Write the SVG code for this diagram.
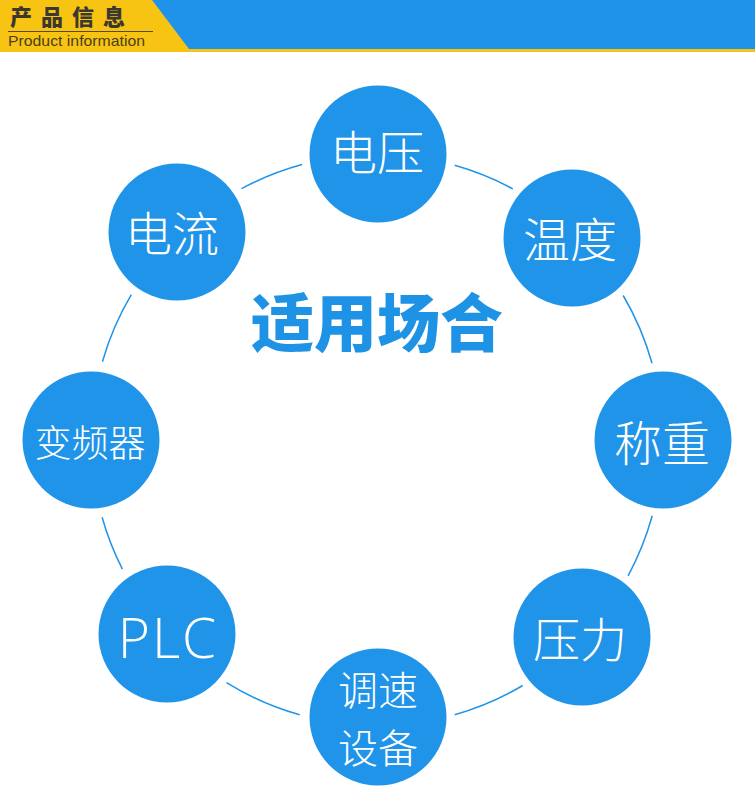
<svg xmlns="http://www.w3.org/2000/svg" width="755" height="801" viewBox="0 0 755 801">
<style>
.node{fill:#2094e8}
.lbl{fill:#ffffff;font-family:"Noto Sans CJK SC","Noto Sans",sans-serif;font-weight:300;text-anchor:middle}
.arc{fill:none;stroke:#2094e8;stroke-width:1.5}
</style>
<rect width="755" height="801" fill="#ffffff"/>
<g id="header">
<rect x="0" y="0" width="755" height="52" fill="#f8c413"/>
<polygon points="152,0 755,0 755,49 189,49" fill="#1e93e9"/>
<text x="10" y="24.5" font-family="'Noto Sans CJK SC',sans-serif" font-weight="900" font-size="22" letter-spacing="9" fill="#3b3830">产品信息</text>
<line x1="8" y1="31.5" x2="153" y2="31.5" stroke="#5a4a1e" stroke-width="1"/>
<text x="8" y="46" font-family="'Liberation Sans',Arial,sans-serif" font-size="15" textLength="137" lengthAdjust="spacingAndGlyphs" fill="#4a3e1c">Product information</text>
</g>
<text id="title" x="377" y="346" font-family="'Noto Sans CJK SC',sans-serif" font-weight="900" font-size="63" fill="#1e93e6" text-anchor="middle">适用场合</text>
<g id="connectors">
<path class="arc" d="M454.7,165.3 A285.5,285.5 0 0 1 512.8,188.9"/>
<path class="arc" d="M623.2,295.5 A285.5,285.5 0 0 1 652.0,363.2"/>
<path class="arc" d="M652.2,515.8 A285.5,285.5 0 0 1 628.1,575.8"/>
<path class="arc" d="M522.7,685.5 A285.5,285.5 0 0 1 454.7,714.7"/>
<path class="arc" d="M299.7,714.8 A285.5,285.5 0 0 1 226.5,682.6"/>
<path class="arc" d="M122.4,569.2 A285.5,285.5 0 0 1 102.1,517.3"/>
<path class="arc" d="M102.4,361.8 A285.5,285.5 0 0 1 131.3,294.7"/>
<path class="arc" d="M241.6,188.6 A285.5,285.5 0 0 1 302.1,164.5"/>
</g>
<g id="n-dianya"><circle class="node" cx="378" cy="154" r="68.5"/><text class="lbl" x="377" y="170" font-size="47">电压</text></g>
<g id="n-wendu"><circle class="node" cx="572" cy="238" r="68.5"/><text class="lbl" x="570" y="257" font-size="47">温度</text></g>
<g id="n-chengzhong"><circle class="node" cx="663" cy="440" r="68.5"/><text class="lbl" x="662" y="461" font-size="48">称重</text></g>
<g id="n-yali"><circle class="node" cx="582" cy="637" r="68.5"/><text class="lbl" x="580" y="657" font-size="47">压力</text></g>
<g id="n-tiaosu"><circle class="node" cx="378" cy="717" r="68.5"/><text class="lbl" x="378" y="705" font-size="40">调速</text><text class="lbl" x="378" y="763" font-size="40">设备</text></g>
<g id="n-plc"><circle class="node" cx="167" cy="634" r="68.5"/><text x="168" y="658" font-family="'Open Sans','Noto Sans',sans-serif" font-weight="300" font-size="55" letter-spacing="2" fill="#ffffff" text-anchor="middle">PLC</text></g>
<g id="n-bianpinqi"><circle class="node" cx="91" cy="440" r="68.5"/><text class="lbl" x="90" y="457" font-size="37">变频器</text></g>
<g id="n-dianliu"><circle class="node" cx="177" cy="232" r="68.5"/><text class="lbl" x="172" y="251" font-size="47">电流</text></g>
</svg>
